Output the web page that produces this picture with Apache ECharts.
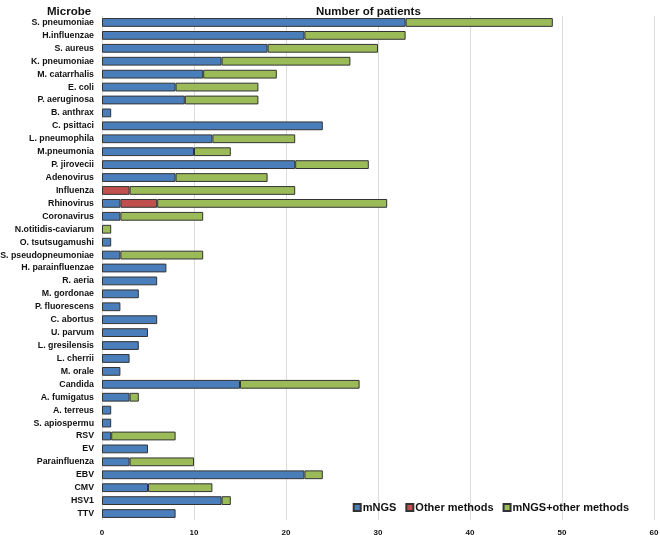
<!DOCTYPE html>
<html><head><meta charset="utf-8">
<script src="https://cdn.jsdelivr.net/npm/echarts@6/dist/echarts.min.js"></script>
<style>html,body{margin:0;padding:0;background:#fff}#c{width:660px;height:535px}</style>
</head><body><div id="c"></div>
<script>
const categories = ["S. pneumoniae","H.influenzae","S. aureus","K. pneumoniae","M. catarrhalis","E. coli","P. aeruginosa","B. anthrax","C. psittaci","L. pneumophila","M.pneumonia","P. jirovecii","Adenovirus","Influenza","Rhinovirus","Coronavirus","N.otitidis-caviarum","O. tsutsugamushi","S. pseudopneumoniae","H. parainfluenzae","R. aeria","M. gordonae","P. fluorescens","C. abortus","U. parvum","L. gresilensis","L. cherrii","M. orale","Candida","A. fumigatus","A. terreus","S. apiospermu","RSV","EV","Parainfluenza","EBV","CMV","HSV1","TTV"];
const mNGS =   [33,22,18,13,11,8,9,1,24,12,10,21,8,0,2,2,0,1,2,7,6,4,2,6,5,4,3,2,15,3,1,1,1,5,3,22,5,13,8];
const other =  [0,0,0,0,0,0,0,0,0,0,0,0,0,3,4,0,0,0,0,0,0,0,0,0,0,0,0,0,0,0,0,0,0,0,0,0,0,0,0];
const both =   [16,11,12,14,8,9,8,0,0,9,4,8,10,18,25,9,1,0,9,0,0,0,0,0,0,0,0,0,13,1,0,0,7,0,7,2,7,1,0];
const xTicks = [0,10,20,30,40,50,60];

const chart = echarts.init(document.getElementById('c'));
const mk = (name, data, color) => ({
  name, type:'bar', stack:'t', data: data.map(v => v === 0 ? null : v),
  barCategoryGap:'32%',
  itemStyle:{color, borderColor:'#333', borderWidth:1}
});
chart.setOption({
  animation:false,
  textStyle:{fontFamily:'Liberation Sans, Arial, sans-serif'},
  grid:{left:102, right:6, top:16, bottom:15, containLabel:false, outerBoundsMode:'none'},
  title:[
    {text:'Microbe', left:42, top:1, textStyle:{fontSize:11.5, fontWeight:'bold', color:'#111'}},
    {text:'Number of patients', left:311, top:1, textStyle:{fontSize:11.5, fontWeight:'bold', color:'#111'}}
  ],
  legend:{
    right:26, bottom:17, itemWidth:7, itemHeight:7, itemGap:9,
    icon:'rect',
    textStyle:{fontSize:11, fontWeight:'bold', color:'#111', padding:[0,0,0,-3]},
    data:['mNGS','Other methods','mNGS+other methods']
  },
  xAxis:{
    type:'value', min:0, max:60, interval:10,
    axisLine:{show:false}, axisTick:{show:false},
    splitLine:{lineStyle:{color:'#dcdcdc'}},
    axisLabel:{fontSize:8, fontWeight:'bold', color:'#111', margin:9,
      formatter: v => xTicks.includes(v) ? String(v) : ''}
  },
  yAxis:{
    type:'category', data:categories, inverse:true,
    axisLine:{show:false}, axisTick:{show:false},
    axisLabel:{fontSize:8.8, fontWeight:'bold', color:'#111', margin:8, interval:0}
  },
  series:[
    mk('mNGS', mNGS, '#4a7ebb'),
    mk('Other methods', other, '#c0504d'),
    mk('mNGS+other methods', both, '#9bbb59')
  ]
});
</script></body></html>
